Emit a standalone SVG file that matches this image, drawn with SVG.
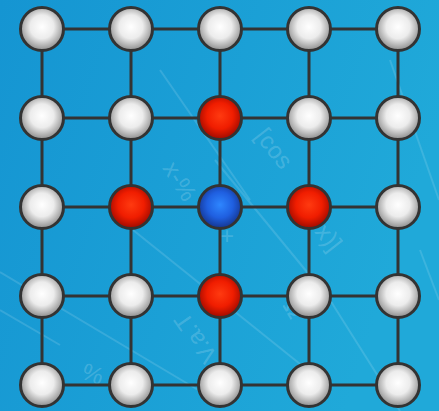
<svg xmlns="http://www.w3.org/2000/svg" width="439" height="411" viewBox="0 0 439 411">
<defs>
<linearGradient id="bg" x1="0" y1="0" x2="1" y2="0.3">
<stop offset="0" stop-color="#1595d2"/>
<stop offset="1" stop-color="#20a9d9"/>
</linearGradient>
<radialGradient id="gw" cx="0.5" cy="0.45" r="0.55">
<stop offset="0" stop-color="#ffffff"/>
<stop offset="0.5" stop-color="#ececec"/>
<stop offset="1" stop-color="#8c8c8c"/>
</radialGradient>
<radialGradient id="gr" cx="0.5" cy="0.45" r="0.55">
<stop offset="0" stop-color="#ff3a10"/>
<stop offset="0.55" stop-color="#f01d00"/>
<stop offset="1" stop-color="#9e0a00"/>
</radialGradient>
<radialGradient id="gb" cx="0.5" cy="0.45" r="0.55">
<stop offset="0" stop-color="#2e86ff"/>
<stop offset="0.55" stop-color="#1f5fe0"/>
<stop offset="1" stop-color="#143590"/>
</radialGradient>
</defs>
<style>
.n{stroke:#333333;stroke-width:3}
.w{fill:url(#gw)}
.r{fill:url(#gr)}
.b{fill:url(#gb)}
.e{stroke:#333333;stroke-width:3;fill:none}
.bgl{stroke:#ffffff;stroke-opacity:0.13;stroke-width:2;fill:none}
.bgt{fill:#ffffff;fill-opacity:0.18;font-family:"Liberation Sans",Arial,sans-serif;font-size:24px}
</style>
<rect width="439" height="411" fill="url(#bg)"/>
<g id="background">
<line class="bgl" x1="0" y1="272" x2="215" y2="400"/>
<line class="bgl" x1="133" y1="230" x2="320" y2="380"/>
<line class="bgl" x1="215" y1="160" x2="330" y2="300"/>
<line class="bgl" x1="160" y1="70" x2="250" y2="200"/>
<line class="bgl" x1="390" y1="60" x2="439" y2="200"/>
<line class="bgl" x1="330" y1="300" x2="400" y2="411"/>
<line class="bgl" x1="420" y1="250" x2="439" y2="300"/>
<line class="bgl" x1="0" y1="310" x2="60" y2="345"/>
<text class="bgt" transform="translate(254,136) rotate(52)">[cos</text>
<text class="bgt" transform="translate(314,232) rotate(52)">x)]</text>
<text class="bgt" transform="translate(162,168) rotate(58)">x-%</text>
<text class="bgt" transform="translate(220,244)">+</text>
<text class="bgt" transform="translate(218,356) rotate(-125)">V.a.T</text>
<text class="bgt" transform="translate(282,305) rotate(60)">Ω</text>
<text class="bgt" transform="translate(80,378) rotate(20)" font-size="16">%</text>
</g>
<g id="connectors">
<path class="e" d="M42 29H398M42 118H398M42 207H398M42 296H398M42 385H398"/>
<path class="e" d="M42 29V385M131 29V385M220 29V385M309 29V385M398 29V385"/>
</g>
<g id="n00"><circle class="n w" cx="42" cy="29" r="21.5"/></g>
<g id="n01"><circle class="n w" cx="131" cy="29" r="21.5"/></g>
<g id="n02"><circle class="n w" cx="220" cy="29" r="21.5"/></g>
<g id="n03"><circle class="n w" cx="309" cy="29" r="21.5"/></g>
<g id="n04"><circle class="n w" cx="398" cy="29" r="21.5"/></g>
<g id="n10"><circle class="n w" cx="42" cy="118" r="21.5"/></g>
<g id="n11"><circle class="n w" cx="131" cy="118" r="21.5"/></g>
<g id="n12"><circle class="n r" cx="220" cy="118" r="21.5"/></g>
<g id="n13"><circle class="n w" cx="309" cy="118" r="21.5"/></g>
<g id="n14"><circle class="n w" cx="398" cy="118" r="21.5"/></g>
<g id="n20"><circle class="n w" cx="42" cy="207" r="21.5"/></g>
<g id="n21"><circle class="n r" cx="131" cy="207" r="21.5"/></g>
<g id="n22"><circle class="n b" cx="220" cy="207" r="21.5"/></g>
<g id="n23"><circle class="n r" cx="309" cy="207" r="21.5"/></g>
<g id="n24"><circle class="n w" cx="398" cy="207" r="21.5"/></g>
<g id="n30"><circle class="n w" cx="42" cy="296" r="21.5"/></g>
<g id="n31"><circle class="n w" cx="131" cy="296" r="21.5"/></g>
<g id="n32"><circle class="n r" cx="220" cy="296" r="21.5"/></g>
<g id="n33"><circle class="n w" cx="309" cy="296" r="21.5"/></g>
<g id="n34"><circle class="n w" cx="398" cy="296" r="21.5"/></g>
<g id="n40"><circle class="n w" cx="42" cy="385" r="21.5"/></g>
<g id="n41"><circle class="n w" cx="131" cy="385" r="21.5"/></g>
<g id="n42"><circle class="n w" cx="220" cy="385" r="21.5"/></g>
<g id="n43"><circle class="n w" cx="309" cy="385" r="21.5"/></g>
<g id="n44"><circle class="n w" cx="398" cy="385" r="21.5"/></g>
</svg>
